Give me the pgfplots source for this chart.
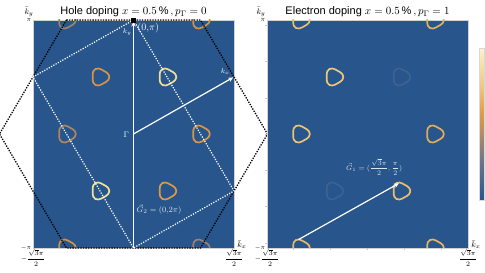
\documentclass[border=0pt]{standalone}
\usepackage{amsmath}
\usepackage{pgfplots}
\pgfplotsset{compat=1.18}
\usepackage{pgfplotstable}
\usepackage{fontspec}
\setmainfont{Liberation Sans}
\usetikzlibrary{arrows.meta}

\definecolor{bgblue}{RGB}{39,85,140}
\definecolor{labw}{RGB}{220,228,240}
% left panel pocket colours
\definecolor{La}{RGB}{214,146,70}
\definecolor{Lb}{RGB}{240,222,150}
\definecolor{Lc}{RGB}{175,135,95}
\definecolor{Ld}{RGB}{218,150,70}
\definecolor{Le}{RGB}{242,226,150}
\definecolor{Lf}{RGB}{222,152,72}
\definecolor{Lg}{RGB}{160,128,105}
\definecolor{Lh}{RGB}{212,145,65}
\definecolor{Li}{RGB}{212,145,65}
\definecolor{Lj}{RGB}{155,128,115}
% right panel pocket colours
\definecolor{Ra}{RGB}{238,200,120}
\definecolor{Rb}{RGB}{60,98,148}
\definecolor{Rc}{RGB}{236,196,118}
\definecolor{Rd}{RGB}{228,172,90}
\definecolor{Re}{RGB}{60,98,148}
\definecolor{Rf}{RGB}{235,190,110}
\definecolor{Rg}{RGB}{232,190,115}
\definecolor{Rh}{RGB}{228,175,95}
\definecolor{Ri}{RGB}{232,185,105}
\definecolor{Rj}{RGB}{230,180,100}

\pgfplotstableread{
x y
0.252 0
0.2241 0.0816
0.1620 0.1360
0.0990 0.1715
0.0367 0.2083
-0.0414 0.2349
-0.1260 0.2182
-0.1827 0.1533
-0.1987 0.0723
-0.1980 0
-0.1987 -0.0723
-0.1827 -0.1533
-0.1260 -0.2182
-0.0414 -0.2349
0.0367 -0.2083
0.0990 -0.1715
0.1620 -0.1360
0.2241 -0.0816
0.252 0
}\ringtab

\pgfplotsset{
  colormap={fermi}{rgb255(0pt)=(39,85,140); rgb255(20pt)=(105,115,140); rgb255(40pt)=(200,145,85); rgb255(48pt)=(226,158,75); rgb255(60pt)=(238,195,125); rgb255(82pt)=(255,242,200)},
  panel/.style={
    scale only axis, width=201pt, height=228pt,
    xmin=-2.7207, xmax=2.7207, ymin=-3.1416, ymax=3.1416,
    axis background/.style={fill=bgblue},
    axis line style={draw=gray!35, line width=0.4pt},
    xtick={-2.7207,2.7207},
    xticklabels={$-\dfrac{\sqrt{3}\pi}{2}$,$\dfrac{\sqrt{3}\pi}{2}$},
    ytick={-3.1416,3.1416},
    yticklabels={$-\pi$,$\pi$},
    x tick label style={font=\fontsize{7.5}{8}\selectfont, inner sep=1pt},
    y tick label style={font=\fontsize{6.5}{7}\selectfont, inner sep=1.5pt},
    major tick length=0pt,
    title style={at={(0.5,1)}, anchor=base, yshift=-1pt, font=\fontsize{11}{12}\selectfont},
  },
  over/.style={
    scale only axis, width=201pt, height=228pt,
    xmin=-2.7207, xmax=2.7207, ymin=-3.1416, ymax=3.1416,
    hide axis, clip=false,
  },
}
\newcommand{\pocket}[3]{\addplot[draw=#3, line width=1.7pt, smooth, mark=none] table[x expr=\thisrow{x}+#1, y expr=\thisrow{y}+#2]{\ringtab};}

\begin{document}
\begin{tikzpicture}
\useasboundingbox (-33pt,-25pt) rectangle (452pt,248pt);

% ---------------- left panel ----------------
\begin{axis}[panel, at={(0pt,0pt)}, anchor=south west,
  title={Hole doping $x = 0.5\,\%\,, p_{\Gamma} = 0$}]
\pocket{-0.907}{1.5708}{La}
\pocket{0.907}{1.5708}{Lb}
\pocket{-1.814}{0}{Lc}
\pocket{1.814}{0}{Ld}
\pocket{-0.907}{-1.5708}{Le}
\pocket{0.907}{-1.5708}{Lf}
\pocket{-1.814}{3.1416}{Lg}
\pocket{1.814}{3.1416}{Lh}
\pocket{-1.814}{-3.1416}{Li}
\pocket{1.814}{-3.1416}{Lj}
\end{axis}

\begin{axis}[over, at={(0pt,0pt)}, anchor=south west]
% Brillouin-zone hexagon
\draw[black, line width=1.3pt, dash pattern=on 1.3pt off 1.3pt]
  (-1.8138,3.1416) -- (1.8138,3.1416) -- (3.6276,0) -- (1.8138,-3.1416)
  -- (-1.8138,-3.1416) -- (-3.6276,0) -- cycle;
% reduced zone rectangle
\draw[white, line width=1.2pt, dash pattern=on 1.2pt off 1.4pt]
  (0,3.1416) -- (-2.7207,1.5708) -- (0,-3.1416) -- (2.7207,-1.5708) -- cycle;
% reciprocal vectors
\draw[white, line width=1.2pt, -{Stealth[length=5pt,width=4.5pt]}] (0,-3.1416) -- (0,3.10);
\draw[white, line width=1.2pt, -{Stealth[length=5pt,width=4.5pt]}] (0,0) -- (2.70,1.56);
\addplot[only marks, mark=square*, mark size=1.8pt, black] coordinates {(0,3.1416)};
\node[white, font=\fontsize{10}{11}\selectfont, anchor=west, inner sep=0pt] at (0.1,2.92) {$(0{,}\pi)$};
\node[white, font=\fontsize{7}{8}\selectfont, anchor=east, inner sep=0pt] at (-0.05,2.80) {$k_y$};
\node[white, font=\fontsize{7}{8}\selectfont, inner sep=0pt] at (2.48,1.72) {$k_x$};
\node[white, font=\fontsize{8}{9}\selectfont, anchor=east, inner sep=0pt] at (-0.12,-0.02) {$\Gamma$};
\node[labw, font=\fontsize{8.5}{9}\selectfont, anchor=west, inner sep=0pt] at (0.08,-2.09) {$\vec{G}_2=(0{,}2\pi)$};
\node[font=\fontsize{8}{9}\selectfont, inner sep=0pt] at (rel axis cs:-0.02,1.036) {$\bar{k}_y$};
\node[font=\fontsize{8}{9}\selectfont, inner sep=0pt] at (rel axis cs:1.04,0.015) {$\bar{k}_x$};
\end{axis}

% ---------------- right panel ----------------
\begin{axis}[panel, at={(234pt,0pt)}, anchor=south west,
  title={Electron doping $x = 0.5\,\%\,, p_{\Gamma} = 1$},
  extra x ticks={-2,-1,0,1,2}, extra x tick labels={},
  extra y ticks={-3,-2,-1,0,1,2,3}, extra y tick labels={},
  extra tick style={major tick length=2pt, tick align=outside, tick style={draw=gray!45, line width=0.3pt}},
  xtick pos=bottom, ytick pos=left,
  colormap name=fermi, point meta min=0, point meta max=0.82,
  colorbar,
  colorbar style={
    at={(parent axis.south east)}, anchor=south west, xshift=3pt, yshift=48pt,
    width=5pt, height=152pt,
    axis line style={draw=gray!30, line width=0.3pt},
    ytick={0,0.2,0.4,0.6,0.8},
    yticklabels={0,0.2,0.4,0.6,0.8},
    yticklabel style={font=\fontsize{4}{4}\selectfont, inner sep=0.5pt},
    major tick length=0pt,
  }]
\pocket{-0.907}{1.5708}{Ra}
\pocket{0.907}{1.5708}{Rb}
\pocket{-1.814}{0}{Rc}
\pocket{1.814}{0}{Rd}
\pocket{-0.907}{-1.5708}{Re}
\pocket{0.907}{-1.5708}{Rf}
\pocket{-1.814}{3.1416}{Rg}
\pocket{1.814}{3.1416}{Rh}
\pocket{-1.814}{-3.1416}{Ri}
\pocket{1.814}{-3.1416}{Rj}
\end{axis}

\begin{axis}[over, at={(234pt,0pt)}, anchor=south west]
\draw[white, line width=1.2pt, -{Stealth[length=5pt,width=4.5pt]}] (-1.87,-2.91) -- (0.85,-1.36);
\node[labw, font=\fontsize{7}{8}\selectfont, inner sep=0pt] at (0.18,-0.91) {$\vec{G}_1=(\dfrac{\sqrt{3}\pi}{2},\dfrac{\pi}{2})$};
\node[font=\fontsize{8}{9}\selectfont, inner sep=0pt] at (rel axis cs:-0.03,1.036) {$\bar{k}_y$};
\node[font=\fontsize{8}{9}\selectfont, inner sep=0pt] at (rel axis cs:1.04,0.015) {$\bar{k}_x$};
\end{axis}
\end{tikzpicture}
\end{document}
